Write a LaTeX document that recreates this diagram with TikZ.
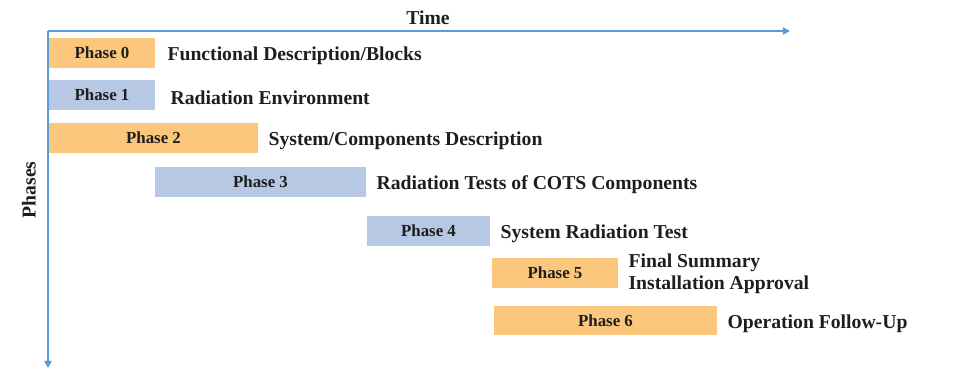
\documentclass[tikz,border=0pt]{standalone}
\usepackage{fontspec}
\setmainfont{Liberation Serif}
\usetikzlibrary{arrows.meta, positioning}
\definecolor{PhOrange}{RGB}{251, 199, 124}
\definecolor{PhBlue}{RGB}{182, 200, 228}
\definecolor{AxBlue}{RGB}{91, 155, 213}
\definecolor{TxtDark}{RGB}{30, 30, 30}

\begin{document}
\begin{tikzpicture}[
  every node/.style={text=TxtDark, font=\bfseries\fontsize{14}{15.6}\selectfont},
  phase/.style={inner sep=0pt, minimum height=0.75cm,
                font=\bfseries\fontsize{12}{14}\selectfont},
  orangebar/.style={phase, fill=PhOrange},
  bluebar/.style={phase, fill=PhBlue},
  desc/.style={inner sep=0pt, align=left, yshift=-0.07cm},
  axis/.style={-{Triangle[length=5pt, width=5pt]}, line width=1.4pt, draw=AxBlue}
]
  \useasboundingbox (0,0) rectangle (23.9,9.75);

  %% Axes
  \coordinate (origin) at (1.2, 8.975);
  \coordinate (tend)   at (19.75, 8.975);
  \coordinate (pend)   at (1.2, 0.55);
  \draw[axis] (origin) -- (tend);
  \draw[axis] (origin) -- (pend);
  \node (time)   at (10.7, 9.3) {Time};
  \node[rotate=90] (phases) at (0.72, 5.0) {Phases};

  %% Phase bars
  \node[orangebar, minimum width=2.65cm]  (p0) at (2.55,    8.425)  {Phase 0};
  \node[bluebar,   minimum width=2.65cm]  (p1) at (2.55,    7.375)  {Phase 1};
  \node[orangebar, minimum width=5.225cm] (p2) at (3.8375,  6.30)   {Phase 2};
  \node[bluebar,   minimum width=5.275cm] (p3) at (6.5125,  5.20)   {Phase 3};
  \node[bluebar,   minimum width=3.075cm] (p4) at (10.7125, 3.9875) {Phase 4};
  \node[orangebar, minimum width=3.15cm]  (p5) at (13.875,  2.9375) {Phase 5};
  \node[orangebar, minimum width=5.575cm, minimum height=0.72cm]
                                          (p6) at (15.1375, 1.7375) {Phase 6};

  %% Descriptions
  \node[desc, right=0.3cm of p0]   (d0) {Functional Description/Blocks};
  \node[desc, right=0.375cm of p1] (d1) {Radiation Environment};
  \node[desc, right=0.25cm of p2]  (d2) {System/Components Description};
  \node[desc, right=0.25cm of p3]  (d3) {Radiation Tests of COTS Components};
  \node[desc, right=0.25cm of p4]  (d4) {System Radiation Test};
  \node[desc, right=0.25cm of p5, yshift=0.04cm] (d5) {Final Summary\\Installation Approval};
  \node[desc, right=0.25cm of p6]  (d6) {Operation Follow-Up};
\end{tikzpicture}
\end{document}
